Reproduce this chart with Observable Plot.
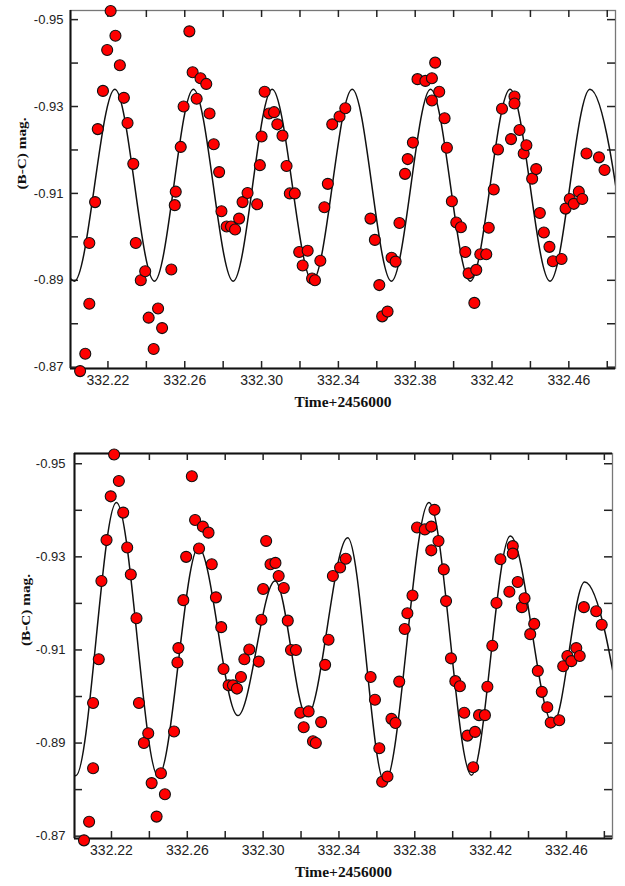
<!DOCTYPE html>
<html>
<head>
<meta charset="utf-8">
<script src="https://cdn.jsdelivr.net/npm/d3@7"></script>
<script src="https://cdn.jsdelivr.net/npm/@observablehq/plot@0.6"></script>
<style>
  html, body { margin: 0; padding: 0; background: #fff; }
  #chart { width: 625px; }
  #chart svg { display: block; }
</style>
</head>
<body>
<div id="chart"></div>
<script>
const times = [
  332.2055, 332.2082, 332.2103, 332.2103, 332.2133, 332.2147, 332.2174, 332.2196, 332.2214, 332.2239,
  332.2262, 332.2283, 332.2302, 332.2332, 332.2345, 332.2371, 332.2394, 332.2412, 332.2438, 332.2461,
  332.2482, 332.2530, 332.2548, 332.2553, 332.2579, 332.2594, 332.2624, 332.2641, 332.2662, 332.2682,
  332.2712, 332.2729, 332.2751, 332.2779, 332.2791, 332.2818, 332.2841, 332.2862, 332.2883, 332.2901,
  332.2927, 332.2977, 332.2991, 332.3000, 332.3016, 332.3039, 332.3065, 332.3082, 332.3109, 332.3130,
  332.3147, 332.3173, 332.3196, 332.3214, 332.3240, 332.3263, 332.3278, 332.3306, 332.3327, 332.3345,
  332.3368, 332.3406, 332.3436, 332.3567, 332.3590, 332.3613, 332.3628, 332.3656, 332.3677, 332.3698,
  332.3718, 332.3747, 332.3761, 332.3788, 332.3812, 332.3853, 332.3887, 332.3904, 332.3887, 332.3925,
  332.3953, 332.3965, 332.3991, 332.4014, 332.4038, 332.4061, 332.4078, 332.4118, 332.4108, 332.4139,
  332.4170, 332.4183, 332.4209, 332.4231, 332.4252, 332.4299, 332.4317, 332.4317, 332.4343, 332.4365,
  332.4379, 332.4409, 332.4430, 332.4449, 332.4470, 332.4499, 332.4517, 332.4562, 332.4583, 332.4605,
  332.4626, 332.4652, 332.4670, 332.4692, 332.4757, 332.4786
];
const mags = [
  -0.8691, -0.8731, -0.8846, -0.8986, -0.9080, -0.9248, -0.9336, -0.9430, -0.9520, -0.9463,
  -0.9395, -0.9320, -0.9262, -0.9168, -0.8986, -0.8900, -0.8921, -0.8814, -0.8742, -0.8835,
  -0.8790, -0.8925, -0.9073, -0.9104, -0.9207, -0.9300, -0.9473, -0.9379, -0.9318, -0.9365,
  -0.9352, -0.9284, -0.9213, -0.9149, -0.9059, -0.9024, -0.9024, -0.9017, -0.9042, -0.9080,
  -0.9101, -0.9075, -0.9165, -0.9231, -0.9334, -0.9284, -0.9287, -0.9259, -0.9233, -0.9163,
  -0.9100, -0.9100, -0.8965, -0.8934, -0.8968, -0.8904, -0.8900, -0.8945, -0.9068, -0.9122,
  -0.9259, -0.9277, -0.9296, -0.9042, -0.8993, -0.8889, -0.8817, -0.8828, -0.8952, -0.8943,
  -0.9032, -0.9145, -0.9179, -0.9217, -0.9363, -0.9359, -0.9365, -0.9401, -0.9314, -0.9334,
  -0.9273, -0.9205, -0.9082, -0.9033, -0.9022, -0.8965, -0.8916, -0.8924, -0.8848, -0.8960,
  -0.8960, -0.9021, -0.9109, -0.9201, -0.9295, -0.9225, -0.9323, -0.9307, -0.9246, -0.9192,
  -0.9211, -0.9134, -0.9156, -0.9055, -0.9010, -0.8977, -0.8944, -0.8949, -0.9065, -0.9087,
  -0.9076, -0.9104, -0.9087, -0.9192, -0.9183, -0.9154
];

// Fitted curve, top panel (single-frequency fit): extrema
const fit1Times = [332.1824, 332.2025, 332.2236, 332.2442, 332.2645, 332.2852, 332.3055, 332.3265,
                   332.3472, 332.3676, 332.3880, 332.4087, 332.4294, 332.4502, 332.4710, 332.4915];
const fit1Mags  = [-0.9340, -0.8898, -0.9340, -0.8898, -0.9340, -0.8898, -0.9340, -0.8898,
                   -0.9340, -0.8898, -0.9340, -0.8898, -0.9340, -0.8898, -0.9340, -0.8898];

// Fitted curve, bottom panel (multi-frequency fit): extrema
const fit2Times = [332.1800, 332.2012, 332.2226, 332.2447, 332.2659, 332.2867, 332.3063, 332.3231,
                   332.3446, 332.3642, 332.3875, 332.4099, 332.4304, 332.4530, 332.4696, 332.4915];
const fit2Mags  = [-0.9380, -0.8830, -0.9417, -0.8828, -0.9320, -0.8959, -0.9248, -0.8957,
                   -0.9341, -0.8815, -0.9417, -0.8831, -0.9345, -0.8942, -0.9246, -0.8890];

// Axes
const xTicks = [332.22, 332.24, 332.26, 332.28, 332.30, 332.32, 332.34, 332.36, 332.38, 332.40, 332.42, 332.44, 332.46, 332.48];
const xTickLabels = [332.22, 332.26, 332.30, 332.34, 332.38, 332.42, 332.46];
const yTicks = [-0.95, -0.94, -0.93, -0.92, -0.91, -0.90, -0.89, -0.88, -0.87];
const yTickLabels = [-0.95, -0.93, -0.91, -0.89, -0.87];
const xDomain = [332.2005, 332.4843];
const xLabel = "Time+2456000";
const yLabel = "(B-C) mag.";

const points = times.map((t, i) => ({t, m: mags[i]}));
const fit1 = fit1Times.map((t, i) => ({t, m: fit1Mags[i]}));
const fit2 = fit2Times.map((t, i) => ({t, m: fit2Mags[i]}));

function panel({height, ml, mr, mt, mb, yDomain, fit, topBlack, yPad}) {
  const width = 625;
  const pw = width - ml - mr, ph = height - mt - mb;
  const tickStroke = "#222";
  return Plot.plot({
    width, height,
    marginLeft: ml, marginRight: mr, marginTop: mt, marginBottom: mb,
    x: {domain: xDomain, axis: null},
    y: {domain: yDomain, axis: null},
    style: {fontFamily: "'Liberation Sans', Arial, sans-serif", background: "#fff", color: "#111", overflow: "visible"},
    marks: [
      Plot.frame({stroke: "#777", strokeWidth: 1.3}),
      Plot.ruleX([xDomain[0]], {stroke: "#111", strokeWidth: 2}),
      Plot.ruleY([yDomain[0]], {stroke: "#111", strokeWidth: 2}),
      topBlack ? Plot.ruleY([yDomain[1]], {stroke: "#111", strokeWidth: 2}) : null,
      // inward ticks on all four sides
      Plot.tickX(xTicks, {x: d => d, insetTop: ph - 7, stroke: tickStroke, strokeWidth: 1.5}),
      Plot.tickX(xTicks, {x: d => d, insetBottom: ph - 7, stroke: tickStroke, strokeWidth: 1.5}),
      Plot.tickY(yTicks, {y: d => d, insetRight: pw - 8, stroke: tickStroke, strokeWidth: 1.5}),
      Plot.tickY(yTicks, {y: d => d, insetLeft: pw - 8, stroke: tickStroke, strokeWidth: 1.5}),
      // fitted curve
      Plot.line(fit, {x: "t", y: "m", curve: "monotone-x", stroke: "#111", strokeWidth: 1.5, clip: true}),
      // observations
      Plot.dot(points, {x: "t", y: "m", r: 5.5, fill: "#ff0000", stroke: "#111", strokeWidth: 1.1}),
      // tick labels
      Plot.axisX(xTickLabels, {anchor: "bottom", tickSize: 0, tickPadding: 7, fontSize: 14, fill: "#222",
        tickFormat: d => d.toFixed(2), label: null}),
      Plot.axisY(yTickLabels, {anchor: "left", tickSize: 0, tickPadding: yPad, fontSize: 13, fill: "#222",
        tickFormat: d => d.toFixed(2), label: null}),
      // axis titles
      Plot.text([xLabel], {frameAnchor: "bottom", dy: 34, text: d => d, lineAnchor: "middle",
        fontFamily: "'Liberation Serif', 'Times New Roman', serif", fontWeight: "bold", fontSize: 14, fill: "#111"}),
      Plot.text([yLabel], {frameAnchor: "left", dx: -48, rotate: -90, text: d => d, lineAnchor: "middle",
        fontFamily: "'Liberation Serif', 'Times New Roman', serif", fontWeight: "bold", fontSize: 12, fill: "#111"})
    ]
  });
}

const topPanel = panel({height: 443, ml: 70, mr: 10, mt: 10, mb: 75, yDomain: [-0.8697, -0.9521], fit: fit1, topBlack: false, yPad: 7});
const bottomPanel = panel({height: 443, ml: 74, mr: 13, mt: 10, mb: 48, yDomain: [-0.8695, -0.9522], fit: fit2, topBlack: true, yPad: 9});

const chart = document.getElementById("chart");
chart.appendChild(topPanel);
chart.appendChild(bottomPanel);

// stretch axis titles to the width seen in the reference
for (const svg of [topPanel, bottomPanel]) {
  svg.querySelectorAll("text").forEach(el => {
    if (el.textContent === xLabel) { el.setAttribute("textLength", 97); el.setAttribute("lengthAdjust", "spacingAndGlyphs"); }
    if (el.textContent === yLabel) { el.setAttribute("textLength", 72); el.setAttribute("lengthAdjust", "spacingAndGlyphs"); }
  });
}
</script>
</body>
</html>
